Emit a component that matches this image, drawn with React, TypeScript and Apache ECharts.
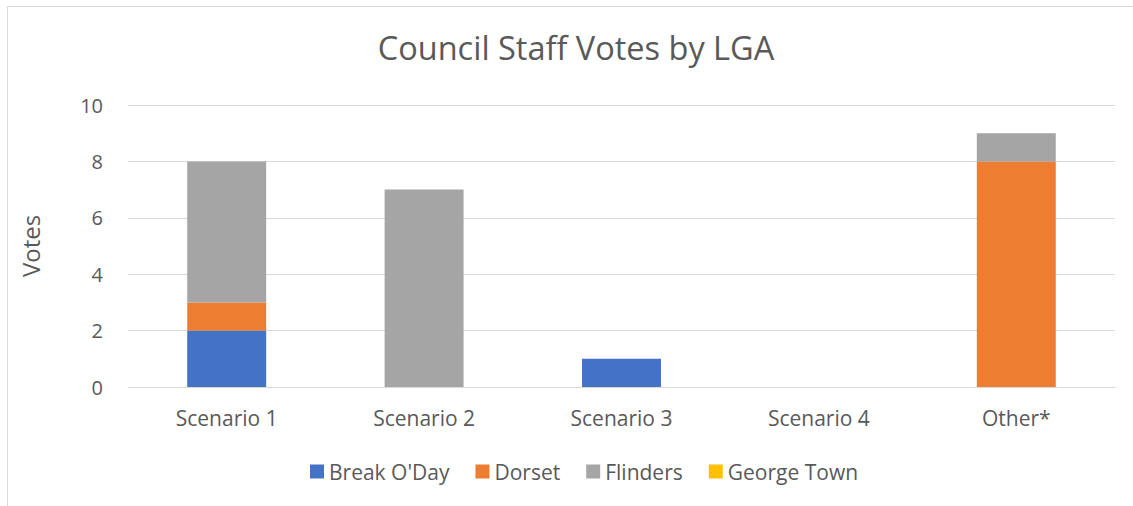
import React, { useEffect, useRef } from "react";
import * as echarts from "echarts";

const categories = ["Scenario 1", "Scenario 2", "Scenario 3", "Scenario 4", "Other*"];
const breakODay = [2, 0, 1, 0, 0];
const dorset = [1, 0, 0, 0, 8];
const flinders = [5, 7, 0, 0, 1];
const georgeTown = [0, 0, 0, 0, 0];
const seriesNames = ["Break O'Day", "Dorset", "Flinders", "George Town"];
const colors = ["#4472C4", "#ED7D31", "#A5A5A5", "#FFC000"];

const FONT = "'Open Sans', Lato, sans-serif";
const TEXT = "#595959";

export default function App() {
  const ref = useRef<HTMLDivElement>(null);
  useEffect(() => {
    document.body.style.margin = "0";
    if (!ref.current) return;
    const chart = echarts.init(ref.current, undefined, { renderer: "svg" });
    const data = [breakODay, dorset, flinders, georgeTown];
    chart.setOption({
      animation: false,
      color: colors,
      textStyle: { fontFamily: FONT },
      graphic: [
        {
          type: "rect",
          shape: { x: 7.5, y: 6.5, width: 1300, height: 700 },
          style: { fill: "none", stroke: "#d9d9d9", lineWidth: 1 },
          silent: true,
        },
      ],
      title: {
        text: "Council Staff Votes by LGA",
        left: 571,
        textAlign: "center",
        top: 26,
        textStyle: { fontFamily: FONT, fontSize: 32.5, fontWeight: "normal", color: TEXT },
      },
      legend: {
        top: 456,
        left: 305,
        itemWidth: 14,
        itemHeight: 14,
        itemGap: 26,
        icon: "rect",
        textStyle: { fontFamily: FONT, fontSize: 21, color: TEXT },
        data: seriesNames,
      },
      grid: { left: 128, right: 18, top: 105, bottom: 119, containLabel: false },
      xAxis: {
        type: "category",
        data: categories,
        axisLine: { lineStyle: { color: "#d9d9d9", width: 1 } },
        axisTick: { show: false },
        axisLabel: { fontFamily: FONT, fontSize: 21, color: TEXT, margin: 20 },
      },
      yAxis: {
        type: "value",
        min: 0,
        max: 10,
        interval: 2,
        name: "Votes",
        nameLocation: "middle",
        nameGap: 86,
        nameRotate: 90,
        nameTextStyle: { fontFamily: FONT, fontSize: 24, color: TEXT },
        axisLine: { show: false },
        axisTick: { show: false },
        axisLabel: { fontFamily: FONT, fontSize: 20, color: TEXT, margin: 25 },
        splitLine: { lineStyle: { color: "#d9d9d9", width: 1 } },
      },
      series: seriesNames.map((name, i) => ({
        name,
        type: "bar",
        stack: "total",
        barWidth: "40%",
        data: data[i],
        itemStyle: { color: colors[i] },
      })),
    });
    return () => chart.dispose();
  }, []);
  return <div ref={ref} style={{ position: "absolute", left: 0, top: 0, width: 1133, height: 506 }} />;
}
